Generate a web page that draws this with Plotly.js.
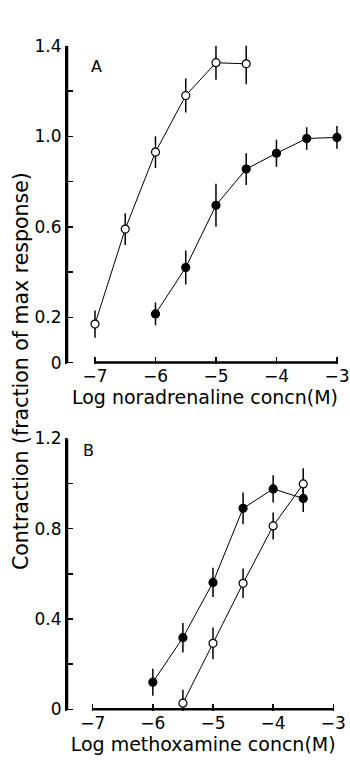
<!DOCTYPE html>
<html>
<head>
<meta charset="utf-8">
<script src="https://cdn.plot.ly/plotly-3.0.1.min.js"></script>
<style>html,body{margin:0;padding:0;background:#fff;}#chart{width:350px;height:761px;}</style>
</head>
<body>
<div id="chart"></div>
<script>
// Panel A: noradrenaline
const xA_open = [-7, -6.5, -6, -5.5, -5, -4.5];
const yA_open = [0.17, 0.59, 0.93, 1.18, 1.325, 1.32];
const eA_open = [0.06, 0.07, 0.07, 0.075, 0.075, 0.09];
const xA_filled = [-6, -5.5, -5, -4.5, -4, -3.5, -3];
const yA_filled = [0.215, 0.42, 0.695, 0.855, 0.925, 0.99, 0.995];
const eA_filled = [0.05, 0.075, 0.095, 0.07, 0.06, 0.05, 0.05];
// Panel B: methoxamine
const xB_filled = [-6, -5.5, -5, -4.5, -4, -3.5];
const yB_filled = [0.12, 0.317, 0.562, 0.89, 0.976, 0.934];
const eB_filled = [0.06, 0.065, 0.065, 0.07, 0.06, 0.06];
const xB_open = [-5.5, -5, -4.5, -4, -3.5];
const yB_open = [0.027, 0.292, 0.558, 0.812, 0.998];
const eB_open = [0.06, 0.07, 0.065, 0.06, 0.07];
// Axis ticks and labels
const xTicks = [-7, -6, -5, -4, -3];
const yTicksA = [0, 0.2, 0.4, 0.6, 0.8, 1.0, 1.2, 1.4];
const yLabelsA = ["0", "0.2", "", "0.6", "", "1.0", "", "1.4"];
const yTicksB = [0, 0.2, 0.4, 0.6, 0.8, 1.0, 1.2];
const yLabelsB = ["0", "", "0.4", "", "0.8", "", "1.2"];
const xTitleA = "Log noradrenaline concn(M)";
const xTitleB = "Log methoxamine concn(M)";
const yTitle = "Contraction (fraction of max response)";

const FONT = "DejaVu Sans";
const xRangeA = [-7.463, -2.9];
const xRangeB = [-7.427, -2.9];
function series(x, y, e, filled, xa, ya) {
  return {
    x: x, y: y, xaxis: xa, yaxis: ya, type: "scatter", mode: "lines+markers",
    cliponaxis: false, showlegend: false, hoverinfo: "skip",
    line: {color: "#000", width: 1},
    marker: {symbol: "circle", size: 8, color: filled ? "#000" : "#fff", line: {color: "#000", width: 1.2}},
    error_y: {type: "data", array: e, visible: true, color: "#000", thickness: 1.5, width: 0}
  };
}
// axis lines drawn through the axes' own scales: a detached x baseline spanning
// the labelled ticks, and a y line at the left edge of the range
function axisLine(x, y, xa, ya) {
  return {x: x, y: y, xaxis: xa, yaxis: ya, type: "scatter", mode: "lines", cliponaxis: false,
          showlegend: false, hoverinfo: "skip", line: {color: "#000", width: 2.5}};
}
const data = [
  axisLine([xTicks[0], xTicks[xTicks.length - 1]], [0, 0], "x", "y"),
  axisLine([xRangeA[0], xRangeA[0]], [yTicksA[0], yTicksA[yTicksA.length - 1]], "x", "y"),
  axisLine([xTicks[0], xTicks[xTicks.length - 1]], [0, 0], "x2", "y2"),
  axisLine([xRangeB[0], xRangeB[0]], [yTicksB[0], yTicksB[yTicksB.length - 1]], "x2", "y2"),
  series(xA_open, yA_open, eA_open, false, "x", "y"),
  series(xA_filled, yA_filled, eA_filled, true, "x", "y"),
  series(xB_filled, yB_filled, eB_filled, true, "x2", "y2"),
  series(xB_open, yB_open, eB_open, false, "x2", "y2")
];
const xCommon = {
  tickvals: xTicks, ticks: "inside", ticklen: 7, tickwidth: 1.5, tickcolor: "#000",
  showline: false, showgrid: false, zeroline: false,
  tickfont: {family: FONT, size: 17, color: "#000"}
};
const yCommon = {
  ticks: "inside", ticklen: 6, tickwidth: 1.5, tickcolor: "#000",
  showline: true, linewidth: 2, linecolor: "#000",
  showgrid: false, zeroline: false, tickfont: {family: FONT, size: 17, color: "#000"}
};
const layout = {
  width: 350, height: 761, margin: {l: 0, r: 0, t: 0, b: 0},
  paper_bgcolor: "#fff", plot_bgcolor: "#fff",
  font: {family: FONT, color: "#000", size: 16},
  xaxis: Object.assign({}, xCommon, {domain: [0.1914, 0.98], range: xRangeA, anchor: "y",
    title: {text: xTitleA, font: {family: FONT, size: 19, color: "#000"}, standoff: 0}}),
  yaxis: Object.assign({}, yCommon, {domain: [0.5212, 0.9399], range: [-0.008, 1.4], anchor: "x",
    tickvals: yTicksA, ticktext: yLabelsA}),
  xaxis2: Object.assign({}, xCommon, {domain: [0.1914, 0.9695], range: xRangeB, anchor: "y2",
    title: {text: xTitleB, font: {family: FONT, size: 19, color: "#000"}, standoff: 0}}),
  yaxis2: Object.assign({}, yCommon, {domain: [0.0656, 0.4240], range: [-0.008, 1.2], anchor: "x2",
    tickvals: yTicksB, ticktext: yLabelsB}),
  annotations: [
    {text: yTitle, textangle: -90, xref: "paper", yref: "paper", x: 21/350, y: 1 - 371/761,
     showarrow: false, font: {family: FONT, size: 20.5, color: "#000"}, xanchor: "center", yanchor: "middle"},
    {text: "A", xref: "paper", yref: "paper", x: 89/350, y: 1 - 55/761, showarrow: false,
     font: {family: FONT, size: 16, color: "#000"}},
    {text: "B", xref: "paper", yref: "paper", x: 81/350, y: 1 - 450/761, showarrow: false,
     font: {family: FONT, size: 16, color: "#000"}}
  ]
};
Plotly.newPlot("chart", data, layout, {staticPlot: true, displayModeBar: false});
</script>
</body>
</html>
